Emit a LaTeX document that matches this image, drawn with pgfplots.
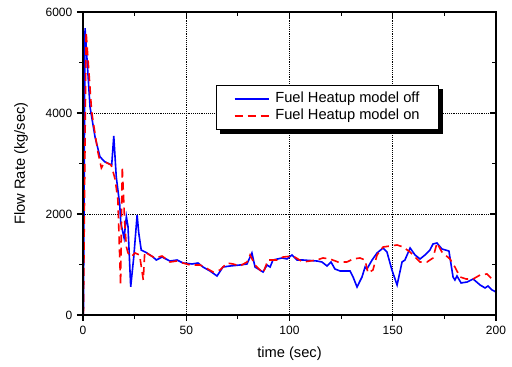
\documentclass[border=0pt]{standalone}
\usepackage{fontspec}
\setmainfont{Liberation Sans}
\usepackage{pgfplots}
\pgfplotsset{compat=1.18}
\usetikzlibrary{backgrounds}
\begin{document}
\begin{tikzpicture}
\pgfplotsset{
  common/.style={
    scale only axis, width=309.75pt, height=227.25pt,
    xmin=0, xmax=200, ymin=0, ymax=6000,
    xtick={0,50,...,200}, ytick={0,2000,4000,6000},
    minor xtick={25,75,125,175}, minor ytick={1000,3000,5000},
    major tick length=4.5pt, minor tick length=3pt,
    every tick/.style={black, line width=0.8pt},
    axis line style={line width=1.2pt},
  }
}
\begin{axis}[
  common,
  xtick pos=left, ytick pos=left, tick align=outside,
  grid=major, major grid style={black, densely dotted, line width=0.6pt},
  scaled ticks=false,
  /pgf/number format/1000 sep={},
  /pgf/number format/assume math mode=true,
  ticklabel style={font=\fontsize{9}{10}\selectfont},
  xlabel={time (sec)}, ylabel={Flow Rate (kg/sec)},
  label style={font=\fontsize{11}{13}\selectfont},
  xlabel style={at={(axis description cs:0.5,-0.1287)}, anchor=center},
  ylabel style={at={(axis description cs:-0.150,0.5)}, anchor=center},
  legend style={name=leg, at={(axis description cs:0.322,0.759)}, anchor=north west,
    draw=black, line width=0.6pt, fill=white,
    font=\fontsize{11}{12}\selectfont,
    inner xsep=13pt, inner ysep=5pt, row sep=2pt, column sep=3.5pt,
    nodes={inner xsep=1pt, inner ysep=0pt, text height=8pt, text depth=2.5pt}},
  legend cell align=left,
  legend image code/.code={\draw[#1] (0pt,0pt) -- (25.5pt,0pt);},
]
\addplot[blue, line width=1.2pt] coordinates {
(0.2,0) (1.0,5680) (3.4,4124) (3.9,4000) (5.8,3530) (8.2,3134) (10.5,3035) (13.9,2970) (14.9,3544) (16.1,2738) (17.8,2178) (18.3,1822) (19.9,1525) (21.0,1946) (21.8,1748) (23.1,560) (24.6,1154) (26.2,1980) (27.0,1624) (28.2,1287) (30.7,1234) (33.9,1148) (35.5,1089) (38.3,1148) (42.1,1069) (45.5,1089) (48.4,1030) (52.8,1010) (55.7,1030) (58.1,950) (61.5,871) (64.9,772) (67.8,950) (71.2,970) (76.0,990) (79.4,1010) (81.8,1228) (83.3,950) (87.2,851) (89.1,990) (90.6,950) (92.0,1089) (96.4,1129) (98.8,1109) (101.2,1188) (103.6,1089) (106.5,1089) (113.3,1069) (115.7,1049) (118.2,970) (120.1,1049) (122.0,911) (124.5,871) (129.3,871) (130.8,752) (132.7,554) (135.1,752) (136.6,950) (137.5,911) (140.0,1089) (142.4,1228) (145.3,1327) (147.2,1247) (149.6,891) (152.1,594) (154.5,1049) (155.9,1089) (158.4,1327) (160.8,1188) (163.2,1109) (165.6,1188) (168.0,1287) (169.5,1406) (171.4,1426) (173.8,1307) (177.2,1267) (179.2,752) (180.1,693) (181.1,772) (183.1,634) (186.0,653) (188.9,713) (192.3,594) (194.7,535) (196.1,574) (198.1,495) (200,455)
};
\addlegendentry{Fuel Heatup model off}
\addplot[red, line width=1.2pt, dash pattern=on 6pt off 3.75pt] coordinates {
(0.2,0) (1.5,5610) (4.2,4025) (6.3,3465) (7.3,3208) (8.9,2911) (10.5,3035) (13.6,2970) (15.0,2772) (15.6,2673) (16.9,2277) (18.2,594) (19.0,2936) (20.2,1822) (21.0,1352) (21.8,1228) (23.4,1154) (25.2,1228) (27.4,1188) (29.2,693) (29.9,1253) (32.3,1188) (34.9,1129) (38.3,1168) (42.1,1049) (45.5,1069) (48.4,1030) (51.8,990) (56.7,990) (59.6,931) (63.0,851) (66.3,891) (69.7,1030) (72.6,1010) (76.0,970) (79.4,1049) (80.9,1188) (83.3,990) (87.2,832) (89.6,1089) (93.9,1089) (96.9,1148) (101.7,1168) (106.5,1049) (113.3,1089) (116.2,1129) (119.6,1109) (123.5,1049) (127.8,1049) (130.8,1109) (134.1,1129) (136.6,1089) (138.0,832) (140.4,891) (142.4,1188) (145.3,1346) (148.7,1366) (152.1,1386) (155.0,1346) (158.4,1247) (163.2,1049) (166.6,1049) (169.5,1129) (171.4,1426) (173.8,1247) (177.7,1109) (180.1,950) (182.6,752) (185.5,713) (188.9,713) (192.3,792) (195.6,812) (198.5,693) (200,713)
};
\addlegendentry{Fuel Heatup model on}
\end{axis}
\begin{axis}[
  common,
  xtick pos=right, ytick pos=right, tick align=inside,
  xticklabels={}, yticklabels={},
]
\end{axis}
\begin{scope}[on background layer]
\fill[black] ([shift={(3pt,-3pt)}]leg.south west) rectangle ([shift={(3pt,-3pt)}]leg.north east);
\end{scope}
\pgfresetboundingbox
\path[use as bounding box] ([shift={(-62.25pt,-39pt)}]current axis.south west) rectangle ([shift={(12pt,9pt)}]current axis.north east);
\end{tikzpicture}
\end{document}
